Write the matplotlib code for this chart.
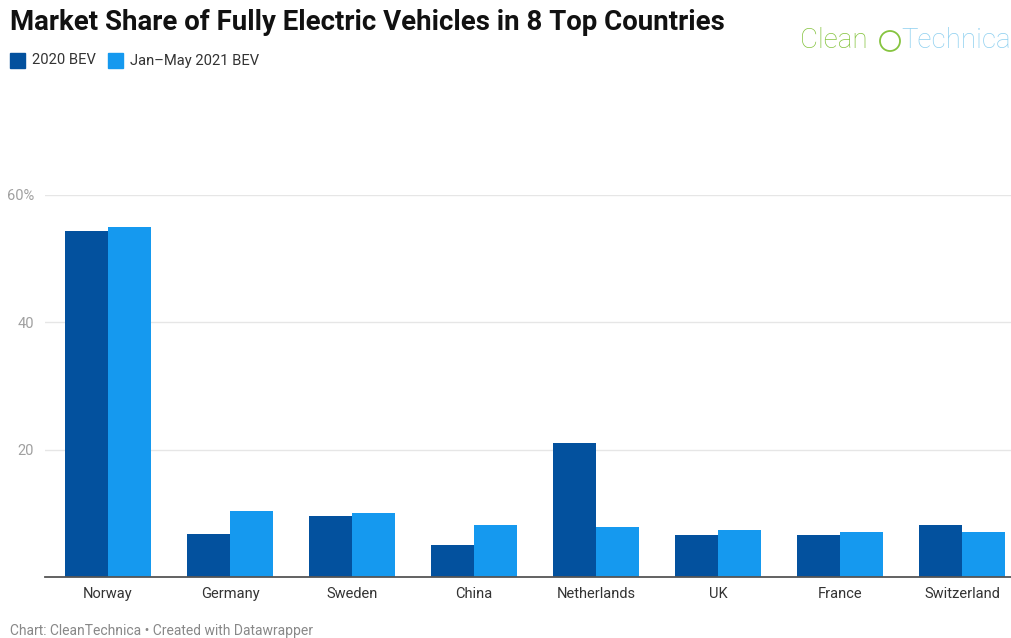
import numpy as np
import matplotlib.pyplot as plt
from matplotlib.patches import Rectangle, Ellipse

plt.rcParams['font.family'] = ['Roboto', 'DejaVu Sans']

countries = ["Norway", "Germany", "Sweden", "China", "Netherlands", "UK", "France", "Switzerland"]
bev_2020 = [54.3, 6.7, 9.6, 5.1, 21.0, 6.55, 6.65, 8.1]
bev_2021 = [54.9, 10.3, 10.1, 8.2, 7.9, 7.45, 7.05, 7.0]
series_labels = ["2020 BEV", "Jan\u2013May 2021 BEV"]
yticks = [20, 40, 60]
ytick_labels = ["20", "40", "60%"]

dark = "#03519e"
light = "#1599ef"

W, H = 1012, 638
fig = plt.figure(figsize=(W / 100, H / 100), dpi=100)
ax = fig.add_axes([45 / W, (H - 577) / H, 1 - 45 / W, (577 - 195) / H])

x = np.arange(len(countries))
bw = 0.355
ax.bar(x - bw / 2, bev_2020, width=bw, color=dark, zorder=3)
ax.bar(x + bw / 2, bev_2021, width=bw, color=light, zorder=3)

ax.set_xlim(-0.516, 7.41)
ax.set_ylim(0, 60)
ax.set_yticks(yticks)
ax.set_yticklabels(ytick_labels)
ax.grid(axis="y", color="#e6e6e6", linewidth=1, zorder=0)
for s in ["top", "right", "left"]:
    ax.spines[s].set_visible(False)
ax.spines["bottom"].set_color("#555555")
ax.spines["bottom"].set_linewidth(1.3)
ax.spines["bottom"].set_zorder(4)
ax.tick_params(axis="y", length=0, pad=8, labelsize=10.5, labelcolor="#a0a0a0")
ax.tick_params(axis="x", length=0, pad=7, labelsize=10.5, labelcolor="#333333")
ax.set_xticks(x)
ax.set_xticklabels(countries)

# title
fig.text(10 / W, 1 - 22 / H, "Market Share of Fully Electric Vehicles in 8 Top Countries",
         fontsize=19.9, fontweight="bold", color="#111111", va="center", ha="left")

# legend
for lab, col, lx in zip(series_labels, [dark, light], [10, 108]):
    fig.patches.append(Rectangle((lx / W, 1 - 68 / H), 15 / W, 15 / H,
                                 transform=fig.transFigure, color=col))
    fig.text((lx + 22) / W, 1 - 60.5 / H, lab, fontsize=10.6, color="#333333",
             va="center", ha="left")

# logo
fig.text(800 / W, 1 - 41 / H, "Clean", fontsize=20, color="#86c440",
         fontweight="light", va="center", ha="left")
fig.patches.append(Ellipse((890 / W, 1 - 41 / H), 20 / W, 20 / H,
                           transform=fig.transFigure, fill=False,
                           edgecolor="#86c440", linewidth=1.3))
fig.text(901 / W, 1 - 41 / H, "Technica", fontsize=20, color="#8fd0f0",
         fontweight="light", va="center", ha="left")

# footer
fig.text(10 / W, 1 - 631 / H, "Chart: CleanTechnica \u2022 Created with Datawrapper",
         fontsize=10, color="#888888", va="center", ha="left")

fig.savefig("out.png", dpi=100)
